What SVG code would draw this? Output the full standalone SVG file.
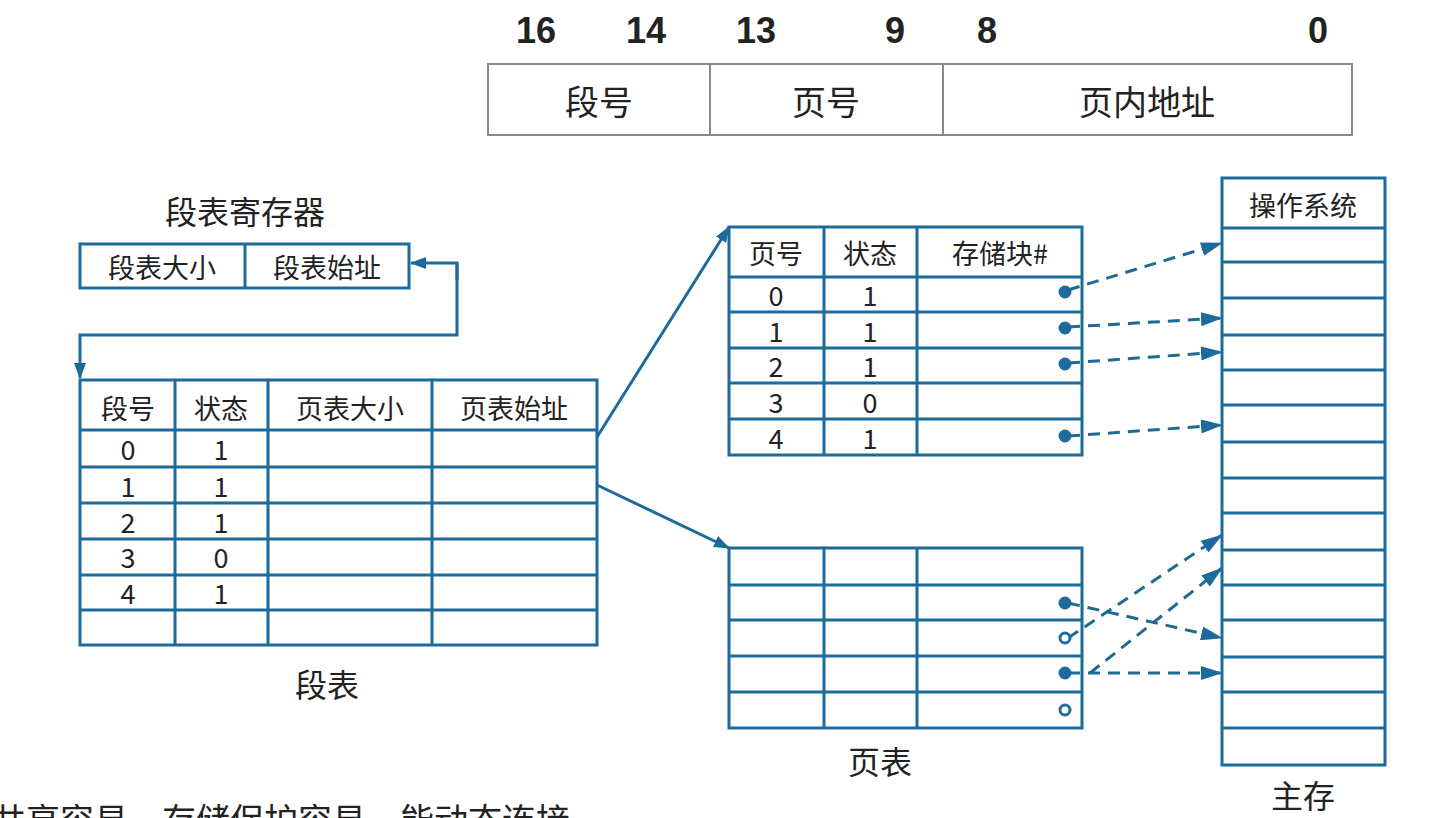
<svg xmlns="http://www.w3.org/2000/svg" width="1450" height="818" viewBox="0 0 1450 818">
<style>
text{font-family:"Noto Sans CJK SC","Noto Sans",sans-serif;fill:#222;text-anchor:middle;dominant-baseline:central}
.t{font-size:27px}.b{font-size:36px;font-weight:bold;font-family:"Liberation Sans",sans-serif}
.box{fill:#fff;stroke:#1d6a9c;stroke-width:3}
.ln{stroke:#1d6a9c;stroke-width:3;fill:none}
.gr{fill:#fff;stroke:#888;stroke-width:2}
.d{stroke:#1f6a8e;stroke-width:3;fill:none;stroke-dasharray:12 8}
.s{stroke:#1d6a9c;stroke-width:3;fill:none}
</style>
<defs>
<marker id="as" markerWidth="16" markerHeight="12" refX="15" refY="6" orient="auto" markerUnits="userSpaceOnUse" viewBox="0 0 16 12"><path d="M0,0L16,6L0,12z" fill="#1d6a9c"/></marker>
<marker id="ad" markerWidth="22" markerHeight="14" refX="21" refY="7" orient="auto" markerUnits="userSpaceOnUse" viewBox="0 0 22 14"><path d="M0,0L22,7L0,14z" fill="#1d6a9c"/></marker>
</defs>
<rect width="1450" height="818" fill="#fff"/>
<g id="addr">
<text class="b" x="536" y="30">16</text><text class="b" x="646" y="30">14</text><text class="b" x="756" y="30">13</text><text class="b" x="895" y="30">9</text><text class="b" x="987" y="30">8</text><text class="b" x="1318" y="30">0</text>
<rect class="gr" x="488" y="64" width="864" height="71"/>
<line x1="710" y1="64" x2="710" y2="135" stroke="#888" stroke-width="2"/><line x1="943" y1="64" x2="943" y2="135" stroke="#888" stroke-width="2"/>
<text x="599" y="100" font-size="34">段号</text><text x="826" y="100" font-size="34">页号</text><text x="1147" y="100" font-size="34">页内地址</text>
</g>
<g id="segreg">
<text x="245" y="210" font-size="32">段表寄存器</text>
<rect class="box" x="80" y="244" width="329" height="44"/><line class="ln" x1="245" y1="244" x2="245" y2="288"/>
<text class="t" x="162" y="266">段表大小</text><text class="t" x="327" y="266">段表始址</text>
</g>
<g id="segtable">
<rect class="box" x="80" y="380" width="517" height="265"/>
<path class="ln" d="M175,380V645M268,380V645M432,380V645M80,430H597M80,467H597M80,503H597M80,539H597M80,575H597M80,610H597"/>
<text class="t" x="128" y="407">段号</text><text class="t" x="221" y="407">状态</text><text class="t" x="350" y="407">页表大小</text><text class="t" x="514" y="407">页表始址</text>
<text class="t" x="128" y="448">0</text><text class="t" x="221" y="448">1</text>
<text class="t" x="128" y="485">1</text><text class="t" x="221" y="485">1</text>
<text class="t" x="128" y="521">2</text><text class="t" x="221" y="521">1</text>
<text class="t" x="128" y="556">3</text><text class="t" x="221" y="556">0</text>
<text class="t" x="128" y="592">4</text><text class="t" x="221" y="592">1</text>
<text x="327" y="683" font-size="32">段表</text>
</g>
<g id="pt1">
<rect class="box" x="729" y="227" width="353" height="228"/>
<path class="ln" d="M824,227V455M917,227V455M729,277H1082M729,312H1082M729,348H1082M729,383H1082M729,419H1082"/>
<text class="t" x="776" y="252">页号</text><text class="t" x="870" y="252">状态</text><text class="t" x="1000" y="252">存储块#</text>
<text class="t" x="776" y="294">0</text><text class="t" x="870" y="294">1</text>
<text class="t" x="776" y="330">1</text><text class="t" x="870" y="330">1</text>
<text class="t" x="776" y="365">2</text><text class="t" x="870" y="365">1</text>
<text class="t" x="776" y="401">3</text><text class="t" x="870" y="401">0</text>
<text class="t" x="776" y="437">4</text><text class="t" x="870" y="437">1</text>
</g>
<g id="pt2">
<rect class="box" x="729" y="548" width="353" height="180"/>
<path class="ln" d="M824,548V728M917,548V728M729,585H1082M729,620H1082M729,656H1082M729,692H1082"/>
<text x="880" y="760" font-size="32">页表</text>
</g>
<g id="mem">
<rect class="box" x="1222" y="178" width="163" height="587"/>
<path class="ln" d="M1222,228H1385M1222,262H1385M1222,298H1385M1222,335H1385M1222,370H1385M1222,405H1385M1222,442H1385M1222,478H1385M1222,513H1385M1222,550H1385M1222,585H1385M1222,620H1385M1222,657H1385M1222,692H1385M1222,728H1385"/>
<text class="t" x="1303" y="204">操作系统</text>
<text x="1303" y="794" font-size="32">主存</text>
</g>
<g id="connectors">
<path class="s" d="M457,263V335H80V378" marker-end="url(#as)"/>
<path class="s" d="M457,280V263H411" marker-end="url(#as)"/>
<path class="s" d="M597,437L729,227" marker-end="url(#as)"/>
<path class="s" d="M597,485L729,548" marker-end="url(#as)"/>
<path class="d" d="M1068,290L1222,243" marker-end="url(#ad)"/>
<path class="d" d="M1068,327L1222,318" marker-end="url(#ad)"/>
<path class="d" d="M1068,363L1222,352" marker-end="url(#ad)"/>
<path class="d" d="M1068,436L1222,425" marker-end="url(#ad)"/>
<path class="d" d="M1068,603L1222,638" marker-end="url(#ad)"/>
<path class="d" d="M1068,638L1222,535" marker-end="url(#ad)"/>
<path class="d" d="M1068,673L1222,673" marker-end="url(#ad)"/>
<path class="d" d="M1090,673L1222,568" marker-end="url(#ad)"/>
<g fill="#1d6a9c" stroke="#1d6a9c" stroke-width="3">
<circle cx="1065" cy="292" r="5"/><circle cx="1065" cy="328" r="5"/><circle cx="1065" cy="364" r="5"/><circle cx="1065" cy="436" r="5"/>
<circle cx="1065" cy="603" r="5"/><circle cx="1065" cy="638" r="5" fill="#fff"/><circle cx="1065" cy="673" r="5"/><circle cx="1065" cy="710" r="5" fill="#fff"/>
</g>
</g>
<text x="-8" y="818" font-size="34" style="text-anchor:start">共享容易，存储保护容易，能动态连接。</text>
</svg>
